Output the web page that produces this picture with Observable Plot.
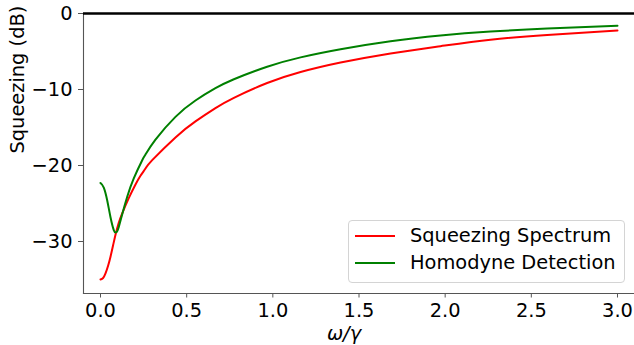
<!DOCTYPE html>
<html>
<head>
<meta charset="utf-8">
<script src="https://cdn.jsdelivr.net/npm/d3@7"></script>
<script src="https://cdn.jsdelivr.net/npm/@observablehq/plot@0.6"></script>
<style>
  html, body { margin: 0; padding: 0; background: white; }
  #wrap { position: relative; width: 634px; height: 345px; font-family: "DejaVu Sans", sans-serif; }
  #legend { position: absolute; left: 348px; top: 220px; width: 277px; height: 63px; box-sizing: border-box;
            border: 1px solid #d4d4d4; border-radius: 4px; background: rgba(255,255,255,0.85); }
  .lg-line { position: absolute; left: 355px; width: 40px; height: 2px; }
  .lg-text { position: absolute; left: 410px; font-size: 19.4px; line-height: 19.4px; color: black; white-space: nowrap; }
</style>
</head>
<body>
<div id="wrap"></div>
<script>
// ω/γ samples and values (dB)
const omegaSpectrum = [0, 0.015, 0.029, 0.044, 0.058, 0.073, 0.087, 0.105, 0.126, 0.164, 0.203, 0.232, 0.261, 0.300, 0.435, 0.551, 0.667, 0.774, 0.967, 1.161, 1.393, 1.683, 1.973, 2.263, 2.592, 3.0];
const squeezingSpectrum = [-35.0, -34.8, -34.2, -33.2, -32.0, -30.5, -29.1, -27.6, -26.3, -24.3, -22.5, -21.35, -20.4, -19.3, -16.3, -14.2, -12.45, -11.1, -9.15, -7.7, -6.45, -5.25, -4.3, -3.45, -2.82, -2.24];

const omegaHomodyne = [0, 0.019, 0.039, 0.058, 0.077, 0.087, 0.096, 0.106, 0.126, 0.155, 0.193, 0.242, 0.261, 0.319, 0.435, 0.551, 0.667, 0.774, 0.967, 1.161, 1.393, 1.683, 1.973, 2.263, 2.592, 3.0];
const homodyneDetection = [-22.3, -22.9, -24.6, -26.8, -28.5, -28.8, -28.7, -28.1, -26.4, -24.1, -21.7, -19.3, -18.55, -16.6, -13.6, -11.45, -9.83, -8.65, -7.0, -5.77, -4.7, -3.65, -2.9, -2.38, -1.98, -1.62];

const seriesNames = ["Squeezing Spectrum", "Homodyne Detection"];
const seriesColors = ["red", "green"];
const xTicks = [0, 0.5, 1.0, 1.5, 2.0, 2.5, 3.0];
const yTicks = [0, -10, -20, -30];
const xLabel = "ω/γ";
const yLabel = "Squeezing (dB)";

const spectrumData = omegaSpectrum.map((x, i) => ({x, y: squeezingSpectrum[i]}));
const homodyneData = omegaHomodyne.map((x, i) => ({x, y: homodyneDetection[i]}));

const FS = 19.4;
const chart = Plot.plot({
  width: 634,
  height: 345,
  marginLeft: 83,
  marginRight: 0,
  marginTop: 13,
  marginBottom: 52,
  x: {domain: [-0.0987, 3.0987]},
  y: {domain: [-36.84, 0]},
  style: {fontFamily: "DejaVu Sans, sans-serif", fontSize: FS + "px", color: "black", background: "white", overflow: "visible"},
  marks: [
    Plot.frame({anchor: "left", stroke: "#555", strokeWidth: 1.1}),
    Plot.frame({anchor: "bottom", stroke: "#555", strokeWidth: 1.1}),
    Plot.axisX(xTicks, {tickFormat: d3.format(".1f"), tickSize: 4.5, tickPadding: 5.5, stroke: "#555", fill: "black", label: null}),
    Plot.axisY(yTicks, {tickFormat: d3.format("d"), tickSize: 5, tickPadding: 6, stroke: "#555", fill: "black", label: null}),
    Plot.ruleY([0], {stroke: "black", strokeWidth: 2.5}),
    Plot.line(spectrumData, {x: "x", y: "y", stroke: seriesColors[0], strokeWidth: 2, curve: "natural"}),
    Plot.line(homodyneData, {x: "x", y: "y", stroke: seriesColors[1], strokeWidth: 2, curve: "natural"}),
    Plot.text([xLabel], {text: d => d, frameAnchor: "bottom", dx: -15, dy: 46, fontSize: FS, fontStyle: "italic", fill: "black"}),
    Plot.text([yLabel], {text: d => d, frameAnchor: "left", rotate: -90, dx: -66, fontSize: FS, fill: "black"})
  ]
});

const wrap = document.getElementById("wrap");
wrap.appendChild(chart);

const legend = document.createElement("div");
legend.id = "legend";
wrap.appendChild(legend);
const rowTops = [235, 262];
const textTops = [225.6, 253.1];
seriesNames.forEach((name, i) => {
  const ln = document.createElement("div");
  ln.className = "lg-line";
  ln.style.top = rowTops[i] + "px";
  ln.style.background = seriesColors[i];
  wrap.appendChild(ln);
  const tx = document.createElement("div");
  tx.className = "lg-text";
  tx.style.top = textTops[i] + "px";
  tx.textContent = name;
  wrap.appendChild(tx);
});
</script>
</body>
</html>
